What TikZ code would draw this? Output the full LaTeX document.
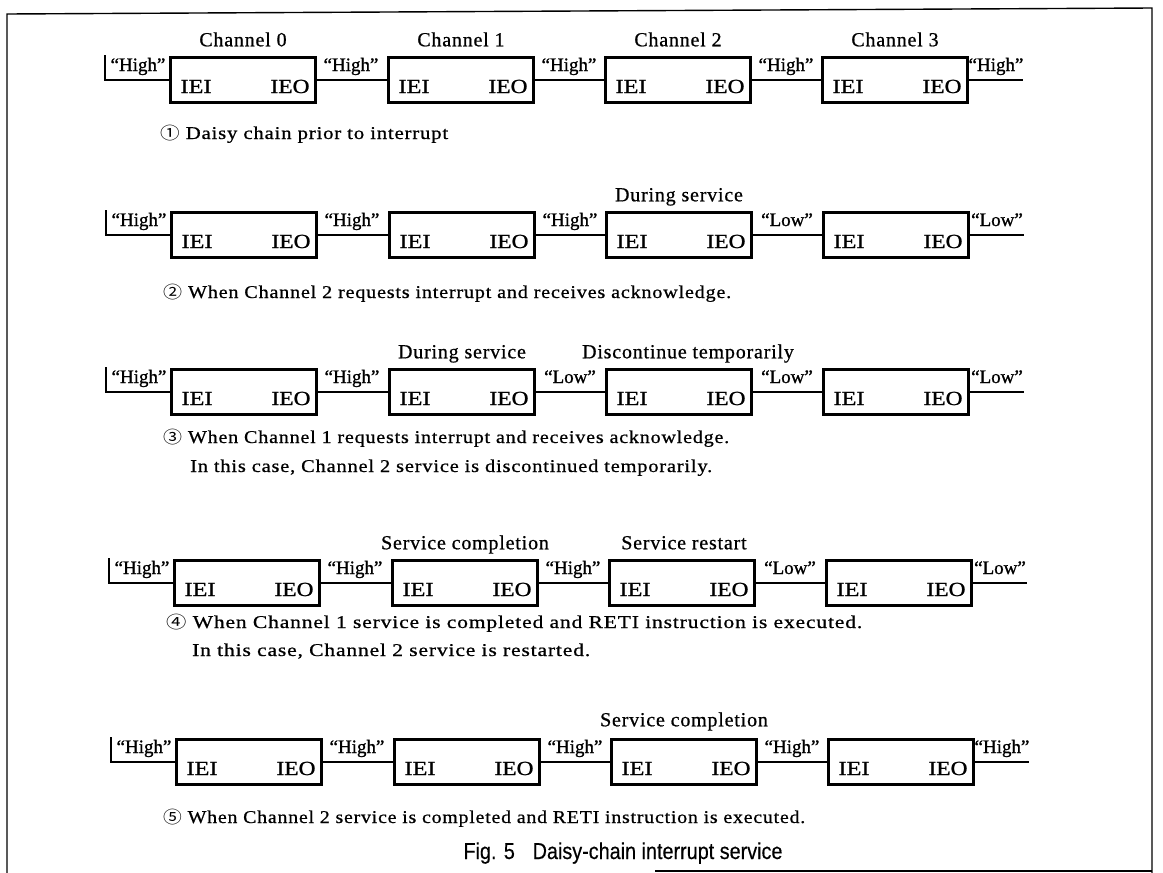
\documentclass[tikz,border=0pt]{standalone}
\usepackage{fontspec}
\setmainfont{Liberation Serif}[FakeBold=0.7]
\newfontfamily\symfont{Noto Sans CJK JP}
\newfontfamily\capfont{Liberation Sans}[FakeBold=0.4]
\newfontfamily\spfont{Liberation Serif}[LetterSpace=4,FakeBold=0.7]
\newfontfamily\pinfont{Liberation Serif}[FakeBold=1.0]
\tikzset{
  chanbox/.style={draw, line width=2.4pt, minimum width=145pt, minimum height=45pt, inner sep=0pt},
  wire/.style={line width=1.4pt},
  framel/.style={line width=1.4pt},
  pinlab/.style={inner sep=0pt, font=\fontsize{20}{22}\selectfont\pinfont},
  sig/.style={inner sep=0pt, anchor=base, font=\fontsize{19}{22}\selectfont\pinfont},
  toplab/.style={inner sep=0pt, anchor=base, font=\fontsize{20}{22}\selectfont\spfont},
  note/.style={inner sep=0pt, anchor=base west, font=\fontsize{18}{20}\selectfont\spfont},
  figcap/.style={inner sep=0pt, anchor=base, font=\fontsize{23}{25}\selectfont\capfont},
}
\newcommand\cnum[1]{{\symfont\fontsize{17}{20}\selectfont #1}}
% #1 id, #2 y, #3 x offset, #4..#8 signal labels
\newcommand\dcrow[8]{%
  \foreach \i/\cx in {0/244,1/462,2/679,3/896}{
    \node[chanbox] (#1b\i) at (\cx+#3,#2) {};
    \node[pinlab, anchor=base west] (#1i\i) at ([xshift=11pt,yshift=-13pt]#1b\i.west) {\resizebox{31pt}{\height}{IEI}};
    \node[pinlab, anchor=base east] (#1o\i) at ([xshift=-7pt,yshift=-13pt]#1b\i.east) {\resizebox{39pt}{\height}{IEO}};
  }
  \coordinate (#1lt) at (106+#3,#2-25);
  \coordinate (#1lb) at (106+#3,#2);
  \coordinate (#1re) at (1024+#3,#2);
  \draw[wire] (#1lt) -- (#1lb) -- (#1b0.west);
  \draw[wire] (#1b0.east) -- (#1b1.west);
  \draw[wire] (#1b1.east) -- (#1b2.west);
  \draw[wire] (#1b2.east) -- (#1b3.west);
  \draw[wire] (#1b3.east) -- (#1re);
  \node[sig] (#1s0) at (139+#3,#2-9) {#4};
  \node[sig] (#1s1) at (352+#3,#2-9) {#5};
  \node[sig] (#1s2) at (570+#3,#2-9) {#6};
  \node[sig] (#1s3) at (787+#3,#2-9) {#7};
  \node[sig] (#1s4) at (997+#3,#2-9) {#8};
}
\begin{document}
\begin{tikzpicture}[x=1pt,y=-1pt]
\useasboundingbox (0,0) rectangle (1163,873);
% frame
\coordinate (fbl) at (7,873);
\coordinate (ftl) at (7,14);
\coordinate (ftr) at (1152,8);
\coordinate (fbr) at (1152,873);
\coordinate (fbm) at (655,871);
\coordinate (fbr2) at (1152,871);
\draw[framel] (fbl) -- (ftl) -- (ftr) -- (fbr);
\draw[framel] (fbm) -- (fbr2);

% rows
\dcrow{r1}{80}{-1}{“High”}{“High”}{“High”}{“High”}{“High”}
\dcrow{r2}{235}{0}{“High”}{“High”}{“High”}{“Low”}{“Low”}
\dcrow{r3}{392}{0}{“High”}{“High”}{“Low”}{“Low”}{“Low”}
\dcrow{r4}{583}{3}{“High”}{“High”}{“High”}{“Low”}{“Low”}
\dcrow{r5}{762}{5}{“High”}{“High”}{“High”}{“High”}{“High”}

% labels above boxes
\node[toplab] (c0) at ([yshift=10pt]r1b0.north) {Channel 0};
\node[toplab] (c1) at ([yshift=10pt]r1b1.north) {Channel 1};
\node[toplab] (c2) at ([yshift=10pt]r1b2.north) {Channel 2};
\node[toplab] (c3) at ([yshift=10pt]r1b3.north) {Channel 3};
\node[toplab] (r2t) at ([yshift=10pt]r2b2.north) {During service};
\node[toplab] (r3t1) at ([yshift=10pt]r3b1.north) {During service};
\node[toplab] (r3t2) at ([xshift=9pt,yshift=10pt]r3b2.north) {Discontinue temporarily};
\node[toplab] (r4t1) at ([yshift=10pt]r4b1.north) {Service completion};
\node[toplab] (r4t2) at ([xshift=2pt,yshift=10pt]r4b2.north) {Service restart};
\node[toplab] (r5t) at ([yshift=12pt]r5b2.north) {Service completion};

% notes
\node[note] (n1) at (160,139) {\resizebox{288pt}{\height}{\cnum{①}~Daisy chain prior to interrupt}};
\node[note] (n2) at (163,298) {\resizebox{568pt}{\height}{\cnum{②}~When Channel 2 requests interrupt and receives acknowledge.}};
\node[note] (n3) at (163,443) {\resizebox{566pt}{\height}{\cnum{③}~When Channel 1 requests interrupt and receives acknowledge.}};
\node[note] (n3b) at (190,472) {\resizebox{522pt}{\height}{In this case, Channel 2 service is discontinued temporarily.}};
\node[note] (n4) at (166,628) {\resizebox{696pt}{\height}{\cnum{④}~When Channel 1 service is completed and RETI instruction is executed.}};
\node[note] (n4b) at (192,656) {\resizebox{398pt}{\height}{In this case, Channel 2 service is restarted.}};
\node[note] (n5) at (163,823) {\resizebox{642pt}{\height}{\cnum{⑤}~When Channel 2 service is completed and RETI instruction is executed.}};
\node[figcap] (cap) at (623,859) {\resizebox{319pt}{\height}{Fig. 5\hspace{0.9em}Daisy-chain interrupt service}};
\end{tikzpicture}
\end{document}
